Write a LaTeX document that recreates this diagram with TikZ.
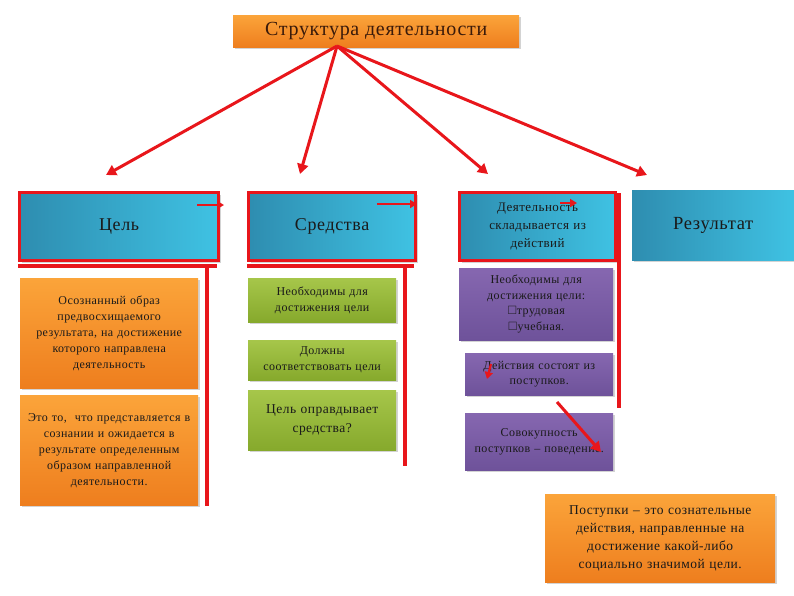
\documentclass[tikz,border=0pt]{standalone}
\usepackage{amssymb}
\usepackage{fontspec}
\setmainfont[LetterSpace=3.5]{Liberation Serif}
\usetikzlibrary{arrows.meta,shadows}
\definecolor{redl}{HTML}{E8161B}
\definecolor{bluel}{HTML}{2E8DB0}
\definecolor{bluer}{HTML}{3FC2E3}
\definecolor{orat}{HTML}{FBA43A}
\definecolor{orab}{HTML}{EE7E1E}
\definecolor{grnt}{HTML}{A6C64A}
\definecolor{grnb}{HTML}{86A92C}
\definecolor{purt}{HTML}{8667B0}
\definecolor{purb}{HTML}{6E529A}
\definecolor{txt}{HTML}{1A1A1A}
\definecolor{ttl}{HTML}{3A1A0A}
\tikzset{
  base/.style={rectangle, anchor=north west, inner sep=1pt, align=center, text=txt,
    drop shadow={shadow xshift=2pt, shadow yshift=-2pt, opacity=0.35}},
  bluebox/.style={base, left color=bluel, right color=bluer, font=\fontsize{18}{21}\selectfont},
  redframe/.style={draw=redl, line width=3.2pt},
  orabox/.style={base, top color=orat, bottom color=orab, font=\fontsize{12}{16}\selectfont},
  grnbox/.style={base, top color=grnt, bottom color=grnb, font=\fontsize{12}{16}\selectfont},
  purbox/.style={base, top color=purt, bottom color=purb, font=\fontsize{12}{15.5}\selectfont},
  redline/.style={draw=redl, line width=3.4pt},
  redarrow/.style={draw=redl, line width=3pt, -{Triangle[length=10pt,width=11pt]}},
  smallarrow/.style={draw=redl, line width=2.2pt, -{Triangle[length=7pt,width=8pt]}},
}
\begin{document}
\begin{tikzpicture}[x=1pt,y=-1pt]
\useasboundingbox (0,0) rectangle (794,595);
% title
\node[base, top color=orat, bottom color=orab, minimum width=286pt, minimum height=32pt, font=\fontsize{20}{23}\selectfont, text=ttl] (title) at (233,15) {Структура деятельности};
% top row
\node[bluebox, redframe, minimum width=199pt, minimum height=68pt] (goal) at (18,191) {Цель};
\node[bluebox, redframe, minimum width=167pt, minimum height=68pt] (means) at (247,191) {Средства};
\node[bluebox, redframe, minimum width=156pt, minimum height=68pt, text width=150pt, font=\fontsize{13}{18}\selectfont] (act) at (458,191) {Деятельность\\ складывается из\\ действий};
\node[bluebox, minimum width=162pt, minimum height=70pt, font=\fontsize{18.5}{21}\selectfont] (res) at (632,190) {Результат};
% orange column
\node[orabox, minimum width=178pt, minimum height=110pt, text width=176pt] (o1) at (20,278) {Осознанный образ\\ предвосхищаемого\\ результата, на достижение\\ которого направлена\\ деятельность};
\node[orabox, minimum width=178pt, minimum height=110pt, text width=176pt] (o2) at (20,395) {Это то,\ \ что представляется в\\ сознании и ожидается в\\ результате определенным\\ образом направленной\\ деятельности.};
% green column
\node[grnbox, minimum width=148pt, minimum height=44pt, text width=146pt] (g1) at (248,278) {Необходимы для\\ достижения цели};
\node[grnbox, minimum width=148pt, minimum height=40pt, text width=146pt] (g2) at (248,340) {Должны\\ соответствовать цели};
\node[grnbox, minimum width=148pt, minimum height=60pt, text width=146pt, font=\fontsize{13.5}{19}\selectfont] (g3) at (248,390) {Цель оправдывает\\ средства?};
% purple column
\node[purbox, minimum width=154pt, minimum height=72pt, text width=152pt] (p1) at (459,268) {Необходимы для\\ достижения цели:\\ $\square$трудовая\\ $\square$учебная.};
\node[purbox, minimum width=148pt, minimum height=42pt, text width=146pt] (p2) at (465,353) {Действия состоят из\\ поступков.};
\node[purbox, minimum width=148pt, minimum height=57pt, text width=146pt] (p3) at (465,413) {Совокупность\\ поступков -- поведение.};
% bottom orange
\node[orabox, minimum width=230pt, minimum height=88pt, text width=228pt, font=\fontsize{13.5}{18}\selectfont] (def) at (545,494) {Поступки -- это сознательные\\ действия, направленные на\\ достижение какой-либо\\ социально значимой цели.};
% red frame lines
\coordinate (l1a) at (18,266); \coordinate (l1b) at (217,266);
\coordinate (v1a) at (207,266); \coordinate (v1b) at (207,506);
\draw[redline] (l1a) -- (l1b);
\draw[redline] (v1a) -- (v1b);
\coordinate (l2a) at (247,266); \coordinate (l2b) at (414,266);
\coordinate (v2a) at (405,266); \coordinate (v2b) at (405,466);
\draw[redline] (l2a) -- (l2b);
\draw[redline] (v2a) -- (v2b);
\coordinate (v3a) at (619,193); \coordinate (v3b) at (619,408);
\draw[redline] (v3a) -- (v3b);
% arrows from title
\coordinate (hub) at (337,46);
\coordinate (e1) at (106,175);
\coordinate (e2) at (300,174);
\coordinate (e3) at (488,174);
\coordinate (e4) at (647,175);
\draw[redarrow] (hub) -- (e1);
\draw[redarrow] (hub) -- (e2);
\draw[redarrow] (hub) -- (e3);
\draw[redarrow] (hub) -- (e4);
% small arrows
\coordinate (s1a) at (197,205); \coordinate (s1b) at (224,205);
\draw[smallarrow] (s1a) -- (s1b);
\coordinate (s2a) at (377,204); \coordinate (s2b) at (417,204);
\draw[smallarrow] (s2a) -- (s2b);
\coordinate (s3a) at (560,203); \coordinate (s3b) at (577,203);
\draw[smallarrow] (s3a) -- (s3b);
\coordinate (s4a) at (491,364); \coordinate (s4b) at (487,379);
\draw[smallarrow] (s4a) -- (s4b);
\coordinate (s5a) at (557,402); \coordinate (s5b) at (601,452);
\draw[redarrow] (s5a) -- (s5b);
\end{tikzpicture}
\end{document}
